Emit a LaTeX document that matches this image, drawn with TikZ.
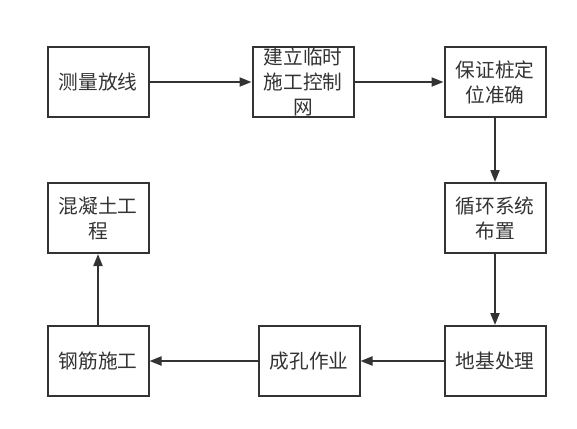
\documentclass[tikz,border=0pt]{standalone}
\usepackage{fontspec}
\newfontfamily\cjk{Noto Sans CJK SC}
\usetikzlibrary{arrows.meta}
\definecolor{Ink}{HTML}{333333}

\begin{document}
\begin{tikzpicture}[x=1bp, y=-1bp,
    stepbox/.style={draw=Ink, line width=2bp, minimum width=101bp,
                    minimum height=70bp, align=center, inner sep=0pt,
                    text=Ink, font=\cjk\fontsize{19.7bp}{25bp}\selectfont},
    ar/.style={-{Triangle[length=12bp, width=9bp]}, draw=Ink, line width=2bp}]
    \useasboundingbox (0,0) rectangle (577,428);
    \node[stepbox] (cl)  at (98,82)   {测量放线};
    \node[stepbox] (kz)  at (303,82)  {建立临时\\施工控制\\网};
    \node[stepbox] (zw)  at (495,82)  {保证桩定\\位准确};
    \node[stepbox] (xh)  at (495,218) {循环系统\\布置};
    \node[stepbox] (dj)  at (495,361) {地基处理};
    \node[stepbox] (ck)  at (309,361) {成孔作业};
    \node[stepbox] (gj)  at (98,361)  {钢筋施工};
    \node[stepbox] (hnt) at (98,218)  {混凝土工\\程};
    \draw[ar] (cl)--(kz); \draw[ar] (kz)--(zw); \draw[ar] (zw)--(xh);
    \draw[ar] (xh)--(dj); \draw[ar] (dj)--(ck); \draw[ar] (ck)--(gj);
    \draw[ar] (gj)--(hnt);
  \end{tikzpicture}
\end{document}
